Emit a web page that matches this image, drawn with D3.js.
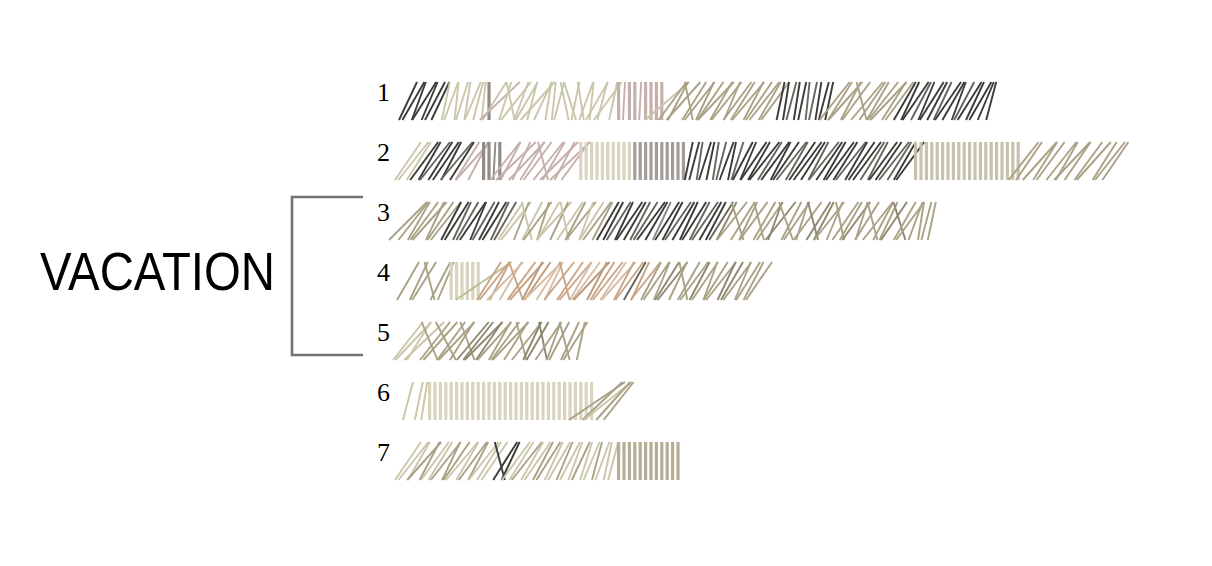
<!DOCTYPE html>
<html><head><meta charset="utf-8">
<script src="https://cdn.jsdelivr.net/npm/d3@7"></script>
<style>body{margin:0;background:#fff}svg{display:block}</style>
</head><body><svg id="c" width="1212" height="566"></svg>
<script>
// ---- DATA ----
// each row: runs of [colourKey, [slant of each stroke in px, null = gap]]
const rowLabels = ["1","2","3","4","5","6","7"];
const groupLabel = "VACATION";
const groupRows = ["3","5"];

const row1 = [
  ["k",[18,22,14,24,16,20,18]],
  ["b",[8,14,4,12,6,16,10,4]],
  ["G",[0]],
  ["b",[24]],["p",[40]],["b",[12,-8,30,14,22,10,34,18]],
  ["b",[6,4,10,-8,-12,8,-6,14,4,22,10,28,8]],
  ["p",[0,2,0,0,2,0,0,0,0]],["b",[44]],
  ["o",[28,20,34,-8,24,30,18,26,36,22,30,16,28,24,32,20,26,30,22,28]],
  ["k",[8,6]],["g",[10]],["k",[6,8]],["g",[4,8]],["k",[6,10,8]],
  ["o",[30,24,34,20,28,-10,32,26,22,30,36,24,28]],
  ["k",[22,18,26]],["g",[20]],["k",[16,24,20]],["g",[18]],["k",[26,22,14]],["g",[20]],["k",[24,18,22,16,10]]
];
const row2 = [
  ["b",[26,30,24]],
  ["k",[28,22]],["g",[30]],["k",[24,26,20]],["g",[32]],["k",[24]],
  ["p",[24,34,20]],
  ["G",[0,0,2,0]],
  ["p",[30,20,40,18,36,24,28,-10,30,22,38,20,40,28]],
  ["B",[0,0,0,0,0,0,0,0,0,0]],
  ["H",[0,0,0,0,0,0,0,0,0,0]],
  ["k",[8,10]],["g",[6]],["k",[12,8]],["g",[6,10]],["k",[14,8]],["g",[12]],["k",[20,16]],
  ["k",[26,22,30]],["g",[24]],["k",[28,20,26]],["g",[30,22]],["k",[26,28,24]],["g",[20,30]],["k",[26,22,28,24]],["g",[30]],["k",[22,26,28]],["g",[24,20]],["k",[28,26]],["g",[30,24]],["k",[22,28]],
  ["C",[0,0,0,0,0,0,0,0,0,0,0,0,0,0,0,0,0,0,0,0]],
  ["o",[30,26,null,34,24,28,null,30,22,36,26,null,28,34,null,24,30,26]]
];
const row3 = [
  ["o",[38,30,22,28,34,18,26,30]],
  ["k",[20,24]],["g",[18,22]],["k",[26,16]],["g",[22]],["k",[20,24]],["g",[18,22]],
  ["b",[25,30]],["o",[15]],["b",[-10,20]],["o",[28,12]],["b",[22,35]],["o",[18]],["b",[-8,26]],["o",[20,30]],["b",[14,24]],["o",[28,20]],
  ["k",[22,20]],["g",[24]],["k",[18,26,22]],["g",[20,24]],["k",[28,22]],["G",[18]],["k",[24,20]],["g",[26]],["k",[22,18,24]],["g",[20,26]],["k",[22,20]],["g",[24]],
  ["O",[20]],["o",[30,-12,24,18,28,-10,22,26]],["O",[14,30]],["o",[-14,20,26,12,28]],["O",[-10,24,20]],["o",[30,16,-8,26,22]],["O",[28]],["o",[12,24,-10,30,20,18]],["O",[26,-12]],["o",[22,28,14,6,10,8]]
];
const row4 = [
  ["o",[22,null,18,24,-10,null,20,16]],
  ["B",[0,0,0,0,0,0]],["y",[56]],
  ["t",[24,30,20]],["u",[36,22]],["t",[-14,28,34]],["T",[20,26]],["u",[38,24,18]],["t",[30,-10,26,32]],["u",[22,28]],["T",[36,20]],["t",[24,30]],["u",[26,34]],["t",[20,28]],["g",[22]],["t",[18,30]],
  ["o",[20,26,16]],["O",[24,30]],["o",[18,-8,22,28]],["O",[20]],["o",[26,14,24,30]],["O",[18,22]],["o",[28,16,24,20,26]]
];
const row5 = [
  ["b",[30,36,24,40]],
  ["o",[-16,30,34,-20,28,36,24,-14]],["O",[32,30,38,26]],["o",[34,22,28,36,24,-10,30]],["O",[18,22,-8]],["o",[26,14,20,-10,18,24,8]]
];
const row6 = [
  ["b",[10,null,8,6]],
  ["B",[0,0,0,0,0,0,0,0,0,0,0,0,0,0,0,0,0,0,0,0,0,0,0,0,0,0,0,0,0,0,0]],
  ["o",[56,40]],["b",[48]],["o",[34,30]]
];
const row7 = [
  ["b",[26,30,22]],["o",[34,20]],["b",[28,24]],["o",[30,18,26]],["b",[32,22]],["o",[28,20]],["b",[30,24,26]],
  ["k",[-10,24,18]],
  ["b",[28,24]],["o",[30]],["b",[22,26]],["o",[20,24]],["b",[18,22]],["o",[16]],["b",[20,14]],["o",[18]],["b",[12,16]],["o",[10]],["b",[14,8,10]],
  ["D",[0,0,0,0,0,0,0,0,0,0,0,0]]
];
const rows = [row1,row2,row3,row4,row5,row6,row7];

// ---- STYLE ----
const palette = {
  k:"#3b3b38", g:"#67655d", G:"#8f8b85", H:"#a29e97",
  b:"#cac6aa", B:"#d8d4bf", C:"#c6c2ac", D:"#b4ae94",
  p:"#c6b0ab", o:"#a9a285", O:"#8e8870",
  t:"#c9a585", T:"#bb9a7c", u:"#d6bea6", y:"#bcbc94"
};
const svg = d3.select("#c");
const rowH = 38;
const y = d3.scalePoint().domain(rowLabels).range([82, 442]);
const x = d3.scaleLinear().domain([0, 1]).range([408, 413.4]);
const dx = d3.scaleLinear().domain([0, 1]).range([0, 1]);

rows.forEach((runs, r) => {
  const lbl = rowLabels[r];
  const strokes = [];
  let i = 0;
  runs.forEach(([key, slants]) => slants.forEach(s => {
    if (s !== null) strokes.push({i, key, s});
    i++;
  }));
  const g = svg.append("g");
  g.selectAll("line").data(strokes).join("line")
    .attr("x1", d => x(d.i) - dx(d.s) / 2)
    .attr("y1", y(lbl) + rowH)
    .attr("x2", d => x(d.i) + dx(d.s) / 2)
    .attr("y2", y(lbl))
    .attr("stroke", d => palette[d.key])
    .attr("stroke-width", d => d.s === 0 ? 3.2 : 1.9);
  svg.append("text")
    .attr("x", 377).attr("y", y(lbl) + 19)
    .attr("font-family", "Liberation Serif, Times New Roman, serif")
    .attr("font-size", 26).attr("fill", "#000")
    .text(lbl);
});

const bTop = y(groupRows[0]) - 5, bBot = y(groupRows[1]) + rowH - 5;
svg.append("path")
  .attr("d", `M363,${bTop}H292V${bBot}H363`)
  .attr("fill", "none").attr("stroke", "#747474").attr("stroke-width", 2.6);
svg.append("text")
  .attr("x", 40).attr("y", (bTop + bBot) / 2 + 14)
  .attr("font-family", "Liberation Sans, Arial, sans-serif")
  .attr("font-size", 53)
  .attr("textLength", 235).attr("lengthAdjust", "spacingAndGlyphs")
  .attr("fill", "#000")
  .text(groupLabel);
</script>
</body></html>
